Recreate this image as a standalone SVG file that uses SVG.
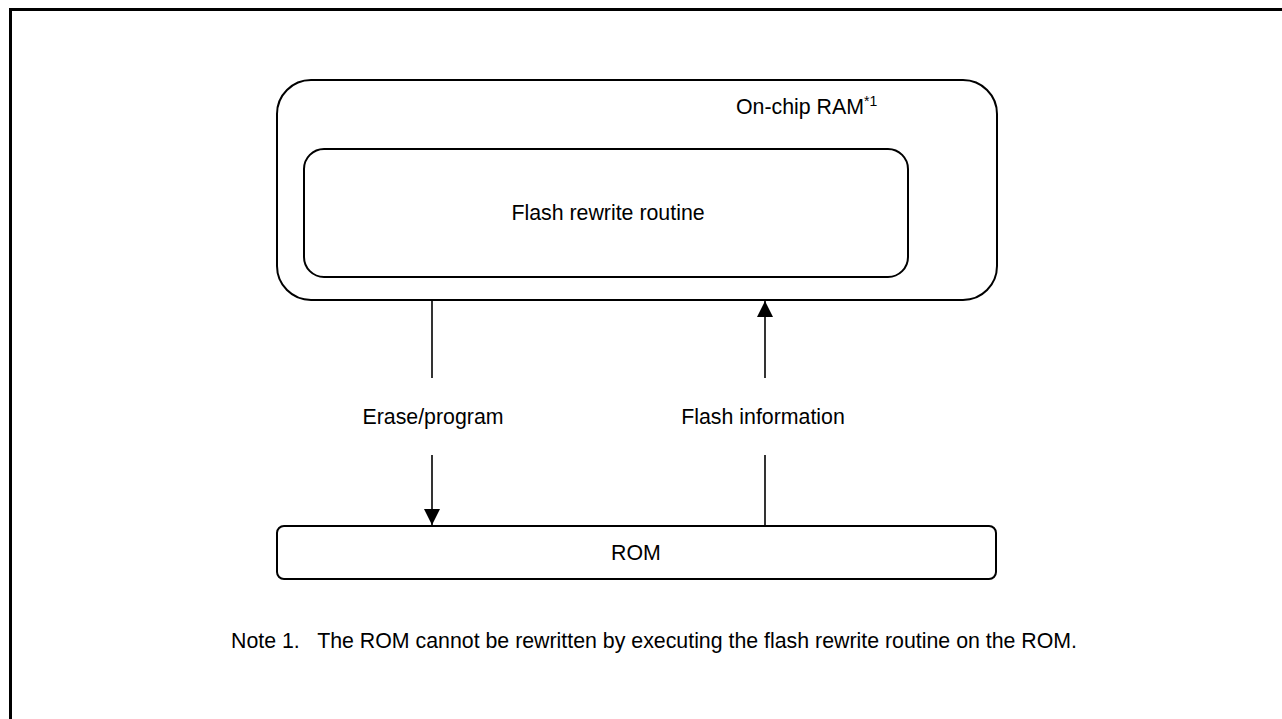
<svg xmlns="http://www.w3.org/2000/svg" width="1282" height="719" viewBox="0 0 1282 719">
  <style>
    .box { fill: none; stroke: #000; stroke-width: 2; }
    .wire { fill: none; stroke: #000; stroke-width: 1.6; }
    .lbl { font-family: "Liberation Sans", Arial, sans-serif; font-size: 21.33px; fill: #000; }
    .mid { text-anchor: middle; }
  </style>
  <defs>
    <!-- solid triangular head, tip at the line end -->
    <marker id="arrow" markerUnits="userSpaceOnUse" markerWidth="17" markerHeight="16" refX="16" refY="8" orient="auto" viewBox="0 0 17 16">
      <path d="M0,0 L16,8 L0,16 Z" fill="#000"/>
    </marker>
  </defs>

  <rect x="0" y="0" width="1282" height="719" fill="#fff"/>

  <!-- page frame (top and left edges) -->
  <path d="M10.5,719 V9.5 H1282" fill="none" stroke="#000" stroke-width="3"/>

  <g id="ram">
    <rect class="box" x="277" y="80" width="720" height="220" rx="34" ry="34"/>
    <text class="lbl" x="736" y="114">On-chip RAM<tspan font-size="14" dy="-8">*1</tspan></text>
  </g>

  <g id="rewrite-routine">
    <rect class="box" x="304" y="149" width="604" height="128" rx="20" ry="20"/>
    <text class="lbl mid" x="608" y="220">Flash rewrite routine</text>
  </g>

  <g id="rom">
    <rect class="box" x="277" y="526" width="719" height="53" rx="7" ry="7"/>
    <text class="lbl mid" x="636" y="560">ROM</text>
  </g>

  <g id="connectors">
    <line class="wire" x1="432" y1="300" x2="432" y2="378"/>
    <line class="wire" x1="432" y1="455" x2="432" y2="525" marker-end="url(#arrow)"/>
    <text class="lbl mid" x="433" y="424">Erase/program</text>

    <line class="wire" x1="765" y1="526" x2="765" y2="455"/>
    <line class="wire" x1="765" y1="378" x2="765" y2="301" marker-end="url(#arrow)"/>
    <text class="lbl mid" x="763" y="424">Flash information</text>
  </g>

  <g id="note">
    <text class="lbl" x="231" y="648" xml:space="preserve">Note 1.   The ROM cannot be rewritten by executing the flash rewrite routine on the ROM.</text>
  </g>
</svg>
